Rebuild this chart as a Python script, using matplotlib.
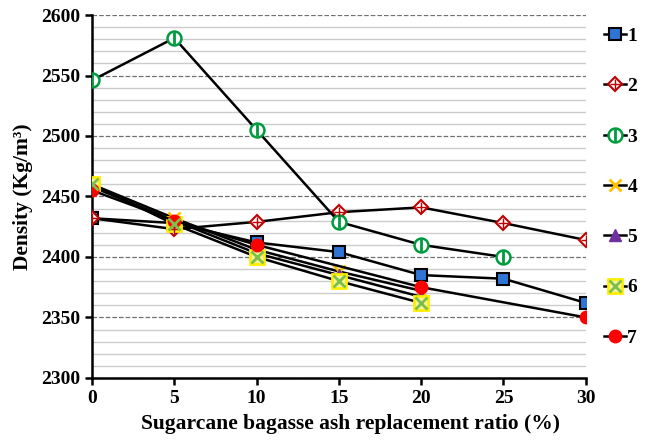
import matplotlib
matplotlib.use("Agg")
import matplotlib.pyplot as plt
from matplotlib.legend_handler import HandlerTuple

plt.rcParams['font.family'] = ['Liberation Serif', 'DejaVu Serif']
plt.rcParams['font.weight'] = 'bold'

# data
x1 = [0, 5, 10, 15, 20, 25, 30]
y1 = [2432, 2428, 2412, 2404, 2385, 2382, 2362]
x2 = [0, 5, 10, 15, 20, 25, 30]
y2 = [2432, 2423, 2429, 2437, 2441, 2428, 2414]
x3 = [0, 5, 10, 15, 20, 25]
y3 = [2546, 2581, 2505, 2429, 2410, 2400]
x4 = [0, 5, 10, 15, 20]
y4 = [2460, 2432, 2406, 2388, 2372]
x5 = [0, 5, 10, 15, 20]
y5 = [2458, 2430, 2403, 2385, 2367]
x6 = [0, 5, 10, 15, 20]
y6 = [2460, 2427, 2400, 2380, 2362]
x7 = [0, 5, 10, 20, 30]
y7 = [2455, 2430, 2410, 2375, 2350]
labels = ['1', '2', '3', '4', '5', '6', '7']

fig = plt.figure(figsize=(6.48, 4.42), dpi=100)
ax = fig.add_axes([0.142, 0.145, 0.762, 0.821])

lw = 1.8
handles = []

h, = ax.plot(x1, y1, '-', color='black', lw=lw, marker='s', ms=8,
             mfc='#2e75d6', mec='black', mew=1.5, zorder=3)
handles.append(h)

h, = ax.plot(x2, y2, '-', color='black', lw=lw, marker='D', ms=7,
             mfc='white', mec='#c00000', mew=1.5, zorder=3)
hx, = ax.plot(x2, y2, ls='none', marker='+', ms=7, mec='#c00000', mew=1, zorder=4)
handles.append((h, hx))

h, = ax.plot(x3, y3, '-', color='black', lw=lw, marker='o', ms=10,
             mfc='white', mec='#009a3e', mew=1.8, zorder=3)
hx, = ax.plot(x3, y3, ls='none', marker='|', ms=8, mec='#009a3e', mew=2, zorder=4)
handles.append((h, hx))

h, = ax.plot(x4, y4, '-', color='black', lw=lw, marker='x', ms=9,
             mec='#ffc000', mew=2, zorder=3)
handles.append(h)

h, = ax.plot(x5, y5, '-', color='black', lw=lw, marker='^', ms=8,
             mfc='#7030a0', mec='#7030a0', mew=1, zorder=3)
handles.append(h)

h, = ax.plot(x6, y6, '-', color='black', lw=lw, marker='s', ms=10,
             mfc='#f4f4a0', mec='#ffee00', mew=2, zorder=3)
hx, = ax.plot(x6, y6, ls='none', marker='x', ms=8, mec='#7cbf4a', mew=2, zorder=4)
handles.append((h, hx))

h, = ax.plot(x7, y7, '-', color='black', lw=lw, marker='o', ms=9,
             mfc='#ff0000', mec='#ff0000', zorder=3)
handles.append(h)

ax.set_xlim(0, 30)
ax.set_ylim(2300, 2600)
ax.set_xticks(range(0, 31, 5))
ax.set_yticks(range(2300, 2601, 50))
ax.set_yticks(range(2300, 2601, 10), minor=True)
ax.grid(axis='y', which='major', ls='--', color='#707070', lw=0.9)
ax.grid(axis='y', which='minor', ls='-', color='#cccccc', lw=1.0)
ax.set_axisbelow(True)

for s in ['top', 'right']:
    ax.spines[s].set_visible(False)
for s in ['left', 'bottom']:
    ax.spines[s].set_linewidth(1.8)
ax.tick_params(axis='both', which='major', direction='out', length=5, width=1.8,
               labelsize=14)
ax.tick_params(axis='y', which='minor', length=0)
for t in ax.get_xticklabels() + ax.get_yticklabels():
    t.set_fontweight('bold')

ax.set_xlabel('Sugarcane bagasse ash replacement ratio (%)', fontsize=15.5,
              fontweight='bold', labelpad=5)
ax.xaxis.label.set_x(0.524)
ax.set_ylabel('Density (Kg/m³)', fontsize=15.5, fontweight='bold', labelpad=6)

fig.legend(handles, labels, loc='upper left', bbox_to_anchor=(0.932, 0.938),
           frameon=False, labelspacing=1.68, handlelength=1.15,
           handletextpad=0.05, borderaxespad=0, borderpad=0,
           handler_map={tuple: HandlerTuple(ndivide=1, pad=0)},
           prop={'weight': 'bold', 'size': 14})

fig.savefig('out.png', dpi=100)
